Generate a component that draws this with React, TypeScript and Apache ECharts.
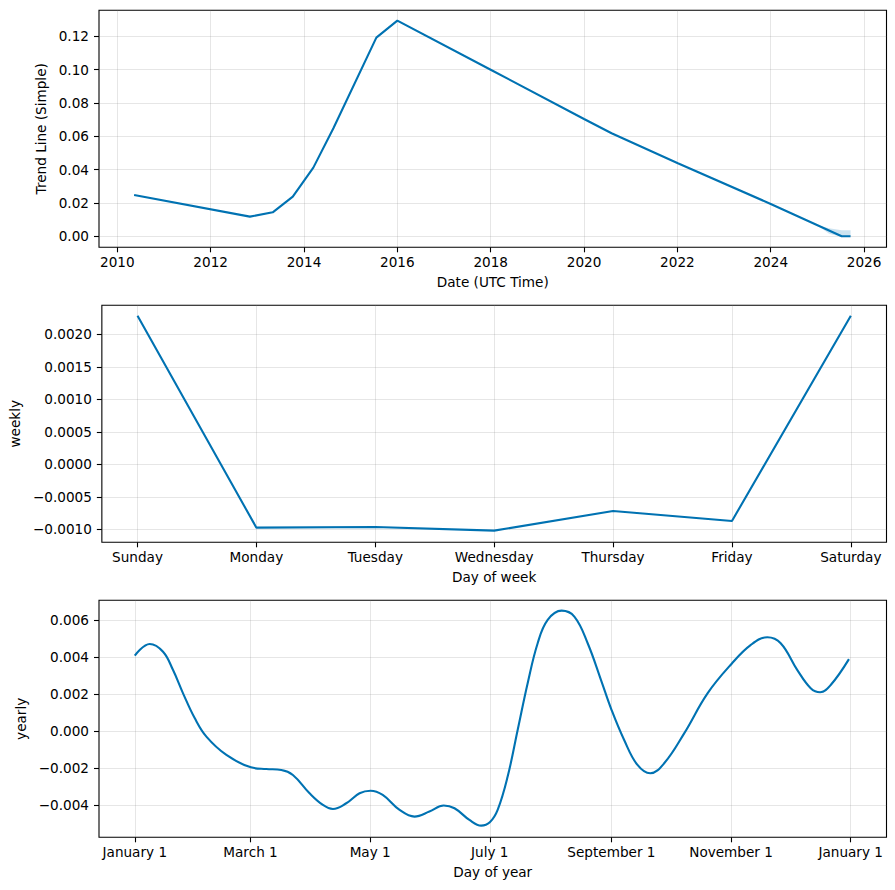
import React, { useEffect, useRef } from "react";
import * as echarts from "echarts";

// ---- Trend panel (decimal years) ----
const trendYears = [2010.36, 2012.84, 2013.33, 2013.76, 2014.2, 2014.63, 2015.55, 2016.0, 2018.01, 2020.0, 2020.59, 2022.01, 2024.0, 2025.52, 2025.71];
const trendValues = [0.0248, 0.0118, 0.0144, 0.0238, 0.0412, 0.0648, 0.1192, 0.1294, 0.0998, 0.0704, 0.0618, 0.0438, 0.0194, 0.0, 0.0];
const bandYears = [2025.0, 2025.25, 2025.52, 2025.71];
const bandLower = [0.0066, 0.0015, -0.0002, 0.0];
const bandUpper = [0.0066, 0.0048, 0.0037, 0.0036];
const trendYearTicks = [2010, 2012, 2014, 2016, 2018, 2020, 2022, 2024, 2026];
const trendValueTicks = [0, 0.02, 0.04, 0.06, 0.08, 0.1, 0.12];

// ---- Weekly panel ----
const weekDays = ["Sunday", "Monday", "Tuesday", "Wednesday", "Thursday", "Friday", "Saturday"];
const weeklyValues = [0.002286, -0.000975, -0.000965, -0.00102, -0.000718, -0.000872, 0.002286];
const weeklyValueTicks = [-0.001, -0.0005, 0, 0.0005, 0.001, 0.0015, 0.002];

// ---- Yearly panel (day of year) ----
const yearlyDays = [0, 7.6, 14.4, 19.5, 24.6, 30.6, 36.5, 46.7, 59.2, 67, 74.7, 80.6, 89.1, 95.9, 101, 107.8, 114.6, 120.2, 126.4, 135, 142.6, 150.2, 157.5, 163, 170.6, 176.6, 181, 185, 190.1, 195.2, 200.3, 205.4, 210.5, 217.6, 224.1, 230.9, 237.7, 243.1, 249.5, 256.3, 262.8, 269.9, 280.1, 292, 304.2, 314.1, 322.5, 329.3, 337.8, 344.6, 349.4, 354.8, 364.1];
const yearlyValues = [0.00409, 0.00472, 0.0043, 0.00331, 0.00205, 0.0007, -0.00029, -0.00128, -0.00195, -0.00204, -0.00209, -0.00236, -0.00335, -0.00398, -0.0042, -0.00389, -0.00335, -0.00321, -0.00344, -0.00425, -0.00461, -0.00434, -0.00401, -0.00416, -0.00479, -0.0051, -0.00492, -0.00425, -0.00245, 0.00007, 0.0026, 0.00476, 0.00602, 0.00652, 0.0062, 0.00476, 0.00277, 0.00115, -0.00047, -0.00182, -0.00227, -0.00173, -0.00011, 0.00205, 0.00364, 0.00467, 0.00508, 0.00476, 0.00331, 0.00233, 0.00211, 0.0025, 0.0039];
const yearTickDays = [0, 59, 120, 181, 243, 304, 365];
const yearTickLabels = ["January 1", "March 1", "May 1", "July 1", "September 1", "November 1", "January 1"];
const yearlyValueTicks = [-0.004, -0.002, 0, 0.002, 0.004, 0.006];

const BLUE = "#0072B2";
const FONT = "DejaVu Sans";
const FS = 13.6;

const fmt = (v: number, d: number) => {
  const s = Math.abs(v) < 1e-12 ? (0).toFixed(d) : v.toFixed(d);
  return s.replace("-", "\u2212");
};

export default function App() {
  const ref = useRef<HTMLDivElement>(null);
  useEffect(() => {
    if (!ref.current) return;
    const chart = echarts.init(ref.current, null, { renderer: "svg" });
    const left = 99;
    const width = 787.5;
    const height = 237;
    const tops = [10.3, 305.3, 600.3];

    const gridLine = { show: true, lineStyle: { color: "rgba(128,128,128,0.2)", width: 1 } };
    const tick = (vals: number[]) => ({ show: true, length: 5, inside: false, customValues: vals, lineStyle: { color: "#000", width: 1.1 } });
    const labelBase = { color: "#000", fontFamily: FONT, fontSize: FS };
    const nameStyle = { color: "#000", fontFamily: FONT, fontSize: FS };

    const xAxisCommon = {
      type: "value" as const,
      axisLine: { show: false, onZero: false },
      splitLine: gridLine,
      nameLocation: "middle" as const,
      nameTextStyle: nameStyle,
    };
    const yAxisCommon = {
      type: "value" as const,
      axisLine: { show: false, onZero: false },
      splitLine: gridLine,
      nameLocation: "middle" as const,
      nameTextStyle: nameStyle,
    };

    const option: any = {
      animation: false,
      backgroundColor: "#fff",
      grid: tops.map((t) => ({
        left,
        top: t,
        width,
        height,
        show: true,
        borderColor: "#000",
        borderWidth: 1.1,
        backgroundColor: "transparent",
        containLabel: false,
      })),
      xAxis: [
        {
          ...xAxisCommon,
          gridIndex: 0,
          min: 2009.608,
          max: 2026.48,
          name: "Date (UTC Time)",
          nameGap: 28,
          axisTick: tick(trendYearTicks),
          axisLabel: { ...labelBase, margin: 8, customValues: trendYearTicks, formatter: (v: number) => String(Math.round(v)) },
        },
        {
          ...xAxisCommon,
          gridIndex: 1,
          min: -0.3,
          max: 6.3,
          name: "Day of week",
          nameGap: 28,
          axisTick: tick([0, 1, 2, 3, 4, 5, 6]),
          axisLabel: { ...labelBase, margin: 8, customValues: [0, 1, 2, 3, 4, 5, 6], formatter: (v: number) => weekDays[Math.round(v)] },
        },
        {
          ...xAxisCommon,
          gridIndex: 2,
          min: -18.25,
          max: 383.25,
          name: "Day of year",
          nameGap: 28,
          axisTick: tick(yearTickDays),
          axisLabel: {
            ...labelBase,
            margin: 8,
            customValues: yearTickDays,
            formatter: (v: number) => {
              const i = yearTickDays.indexOf(Math.round(v));
              return i >= 0 ? yearTickLabels[i] : "";
            },
          },
        },
      ],
      yAxis: [
        {
          ...yAxisCommon,
          gridIndex: 0,
          min: -0.0066,
          max: 0.1356,
          name: "Trend Line (Simple)",
          nameGap: 47,
          axisTick: tick(trendValueTicks),
          axisLabel: { ...labelBase, margin: 10, customValues: trendValueTicks, formatter: (v: number) => fmt(v, 2) },
        },
        {
          ...yAxisCommon,
          gridIndex: 1,
          min: -0.0012,
          max: 0.002446,
          name: "weekly",
          nameGap: 76,
          axisTick: tick(weeklyValueTicks),
          axisLabel: { ...labelBase, margin: 10, customValues: weeklyValueTicks, formatter: (v: number) => fmt(v, 4) },
        },
        {
          ...yAxisCommon,
          gridIndex: 2,
          min: -0.00573,
          max: 0.00708,
          name: "yearly",
          nameGap: 66,
          axisTick: tick(yearlyValueTicks),
          axisLabel: { ...labelBase, margin: 10, customValues: yearlyValueTicks, formatter: (v: number) => fmt(v, 3) },
        },
      ],
      series: [
        {
          type: "custom",
          xAxisIndex: 0,
          yAxisIndex: 0,
          silent: true,
          data: bandYears.map((x, i) => [x, bandLower[i], bandUpper[i]]),
          renderItem: (params: any, api: any) => {
            if (params.dataIndex !== 0) return null;
            const pts: number[][] = [];
            for (let i = 0; i < bandYears.length; i++) pts.push(api.coord([bandYears[i], bandLower[i]]));
            for (let i = bandYears.length - 1; i >= 0; i--) pts.push(api.coord([bandYears[i], bandUpper[i]]));
            return {
              type: "polygon",
              shape: { points: pts },
              style: { fill: "rgba(0,114,178,0.2)", stroke: "none" },
            };
          },
        },
        {
          type: "line",
          xAxisIndex: 0,
          yAxisIndex: 0,
          symbol: "none",
          lineStyle: { color: BLUE, width: 2.1 },
          data: trendYears.map((x, i) => [x, trendValues[i]]),
        },
        {
          type: "line",
          xAxisIndex: 1,
          yAxisIndex: 1,
          symbol: "none",
          lineStyle: { color: BLUE, width: 2.1 },
          data: weeklyValues.map((v, i) => [i, v]),
        },
        {
          type: "line",
          xAxisIndex: 2,
          yAxisIndex: 2,
          symbol: "none",
          smooth: 0.4,
          lineStyle: { color: BLUE, width: 2.1 },
          data: yearlyDays.map((d, i) => [d, yearlyValues[i]]),
        },
      ],
    };
    chart.setOption(option);
    return () => chart.dispose();
  }, []);
  return <div ref={ref} style={{ position: "absolute", left: 0, top: 0, width: 895, height: 890, background: "#fff" }} />;
}
